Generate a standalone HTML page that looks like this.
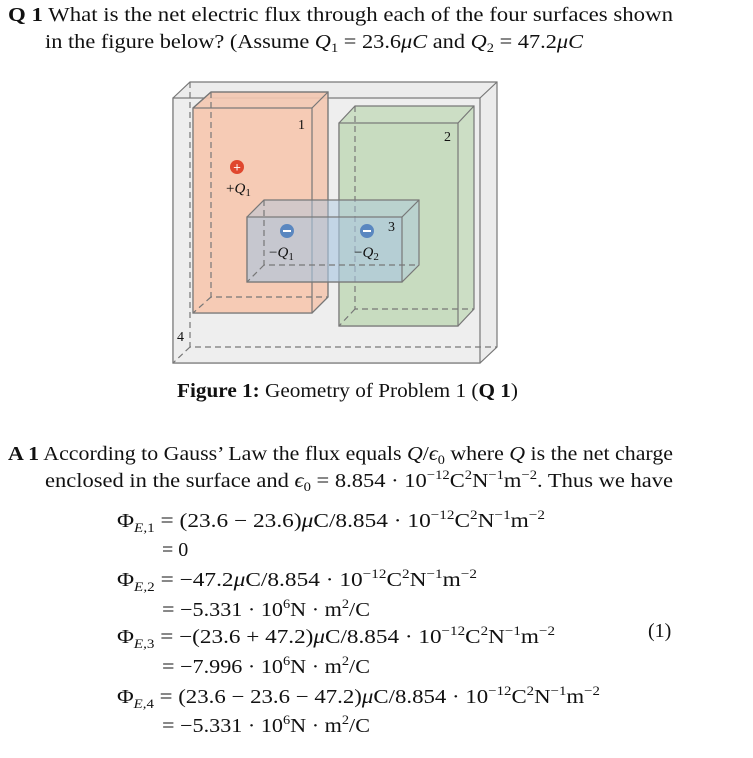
<!DOCTYPE html>
<html><head><meta charset="utf-8"><style>
html,body{margin:0;padding:0;background:#fff;width:753px;height:758px;overflow:hidden}
svg{display:block}
text{font-family:"Liberation Serif",serif;fill:#111}
</style></head><body>
<svg width="753" height="758" viewBox="0 0 753 758" xmlns="http://www.w3.org/2000/svg">
<text x="8" y="21" font-size="20" textLength="665" lengthAdjust="spacingAndGlyphs"><tspan font-weight="bold">Q 1</tspan> What is the net electric flux through each of the four surfaces shown</text>
<text x="45" y="48" font-size="20" textLength="538" lengthAdjust="spacingAndGlyphs">in the figure below? (Assume <tspan font-style="italic">Q</tspan><tspan font-size="13" dy="4">1</tspan><tspan dy="-4"> = 23.6</tspan><tspan font-style="italic">μC</tspan> and <tspan font-style="italic">Q</tspan><tspan font-size="13" dy="4">2</tspan><tspan dy="-4"> = 47.2</tspan><tspan font-style="italic">μC</tspan></text>

<g stroke="#777" stroke-width="1.2">
  <polygon points="173,98 190,82 497,82 497,347 480,363 173,363" fill="#ececec"/>
  <rect x="173" y="98" width="307" height="265" fill="#eeeeee"/>
  <polyline points="480,98 497,82" fill="none"/>
  <g stroke-dasharray="6,4" fill="none">
    <polyline points="190,82 190,347 497,347"/>
    <line x1="190" y1="347" x2="173" y2="363"/>
  </g>
  <polygon points="193,108 211,92 328,92 328,297 312,313 193,313" fill="#f3c7b0" fill-opacity="0.9"/>
  <polyline points="193,108 211,92 328,92 328,297 312,313" fill="none"/>
  <rect x="193" y="108" width="119" height="205" fill="#f7cbb3" fill-opacity="0.7"/>
  <line x1="312" y1="108" x2="328" y2="92"/>
  <g stroke-dasharray="6,4" fill="none"><polyline points="211,92 211,297 328,297"/><line x1="211" y1="297" x2="193" y2="313"/></g>
  <polygon points="339,123 355,106 474,106 474,309 458,326 339,326" fill="#c8dcc0" fill-opacity="0.9"/>
  <rect x="339" y="123" width="119" height="203" fill="#c6dbbd" fill-opacity="0.7"/>
  <line x1="458" y1="123" x2="474" y2="106"/>
  <g stroke-dasharray="6,4" fill="none"><polyline points="355,106 355,309 474,309"/><line x1="355" y1="309" x2="339" y2="326"/></g>
  <polygon points="247,217 264,200 419,200 419,265 402,282 247,282" fill="#a9c6e0" fill-opacity="0.45"/>
  <rect x="247" y="217" width="155" height="65" fill="#a9c6e0" fill-opacity="0.3"/>
  <line x1="402" y1="217" x2="419" y2="200"/>
  <g stroke-dasharray="6,4" fill="none"><polyline points="264,200 264,265 419,265"/><line x1="264" y1="265" x2="247" y2="282"/></g>
</g>
<circle cx="237" cy="167" r="7" fill="#e0472e"/>
<text x="237" y="171.5" font-size="13" text-anchor="middle" style="fill:#fff;font-family:'Liberation Sans'">+</text>
<circle cx="287" cy="231" r="7" fill="#5a87c0"/>
<rect x="283" y="230" width="8" height="2" fill="#fff"/>
<circle cx="367" cy="231" r="7" fill="#5a87c0"/>
<rect x="363" y="230" width="8" height="2" fill="#fff"/>
<g font-size="15">
<text x="226" y="193"><tspan>+</tspan><tspan font-style="italic">Q</tspan><tspan font-size="11" dy="3">1</tspan></text>
<text x="269" y="257"><tspan>−</tspan><tspan font-style="italic">Q</tspan><tspan font-size="11" dy="3">1</tspan></text>
<text x="354" y="257"><tspan>−</tspan><tspan font-style="italic">Q</tspan><tspan font-size="11" dy="3">2</tspan></text>
<text x="298" y="129" font-size="14">1</text>
<text x="444" y="141" font-size="14">2</text>
<text x="388" y="231" font-size="14">3</text>
<text x="177" y="341" font-size="14">4</text>
</g>
<text x="177" y="397" font-size="20" textLength="341" lengthAdjust="spacingAndGlyphs"><tspan font-weight="bold">Figure 1:</tspan> Geometry of Problem 1 (<tspan font-weight="bold">Q 1</tspan>)</text>

<text x="8" y="460" font-size="20" textLength="665" lengthAdjust="spacingAndGlyphs"><tspan font-weight="bold">A 1</tspan> According to Gauss’ Law the flux equals <tspan font-style="italic">Q</tspan>/<tspan font-style="italic">ϵ</tspan><tspan font-size="13" dy="4">0</tspan><tspan dy="-4"> where </tspan><tspan font-style="italic">Q</tspan> is the net charge</text>
<text x="45" y="487" font-size="20" textLength="628" lengthAdjust="spacingAndGlyphs">enclosed in the surface and <tspan font-style="italic">ϵ</tspan><tspan font-size="13" dy="4">0</tspan><tspan dy="-4"> = 8.854 · 10</tspan><tspan font-size="13" dy="-8">−12</tspan><tspan dy="8">C</tspan><tspan font-size="13" dy="-8">2</tspan><tspan dy="8">N</tspan><tspan font-size="13" dy="-8">−1</tspan><tspan dy="8">m</tspan><tspan font-size="13" dy="-8">−2</tspan><tspan dy="8">. Thus we have</tspan></text>

<g font-size="20">
<text x="117" y="527" textLength="428" lengthAdjust="spacingAndGlyphs">Φ<tspan font-size="13" font-style="italic" dy="5">E,</tspan><tspan font-size="13">1</tspan><tspan dy="-5"> = (23.6 − 23.6)</tspan><tspan font-style="italic">μ</tspan>C/8.854 · 10<tspan font-size="13" dy="-8">−12</tspan><tspan dy="8">C</tspan><tspan font-size="13" dy="-8">2</tspan><tspan dy="8">N</tspan><tspan font-size="13" dy="-8">−1</tspan><tspan dy="8">m</tspan><tspan font-size="13" dy="-8">−2</tspan></text>
<text x="162" y="556">= 0</text>
<text x="117" y="586" textLength="360" lengthAdjust="spacingAndGlyphs">Φ<tspan font-size="13" font-style="italic" dy="5">E,</tspan><tspan font-size="13">2</tspan><tspan dy="-5"> = −47.2</tspan><tspan font-style="italic">μ</tspan>C/8.854 · 10<tspan font-size="13" dy="-8">−12</tspan><tspan dy="8">C</tspan><tspan font-size="13" dy="-8">2</tspan><tspan dy="8">N</tspan><tspan font-size="13" dy="-8">−1</tspan><tspan dy="8">m</tspan><tspan font-size="13" dy="-8">−2</tspan></text>
<text x="162" y="616" textLength="208" lengthAdjust="spacingAndGlyphs">= −5.331 · 10<tspan font-size="13" dy="-8">6</tspan><tspan dy="8">N · m</tspan><tspan font-size="13" dy="-8">2</tspan><tspan dy="8">/C</tspan></text>
<text x="117" y="643" textLength="438" lengthAdjust="spacingAndGlyphs">Φ<tspan font-size="13" font-style="italic" dy="5">E,</tspan><tspan font-size="13">3</tspan><tspan dy="-5"> = −(23.6 + 47.2)</tspan><tspan font-style="italic">μ</tspan>C/8.854 · 10<tspan font-size="13" dy="-8">−12</tspan><tspan dy="8">C</tspan><tspan font-size="13" dy="-8">2</tspan><tspan dy="8">N</tspan><tspan font-size="13" dy="-8">−1</tspan><tspan dy="8">m</tspan><tspan font-size="13" dy="-8">−2</tspan></text>
<text x="162" y="673" textLength="208" lengthAdjust="spacingAndGlyphs">= −7.996 · 10<tspan font-size="13" dy="-8">6</tspan><tspan dy="8">N · m</tspan><tspan font-size="13" dy="-8">2</tspan><tspan dy="8">/C</tspan></text>
<text x="117" y="703" textLength="483" lengthAdjust="spacingAndGlyphs">Φ<tspan font-size="13" font-style="italic" dy="5">E,</tspan><tspan font-size="13">4</tspan><tspan dy="-5"> = (23.6 − 23.6 − 47.2)</tspan><tspan font-style="italic">μ</tspan>C/8.854 · 10<tspan font-size="13" dy="-8">−12</tspan><tspan dy="8">C</tspan><tspan font-size="13" dy="-8">2</tspan><tspan dy="8">N</tspan><tspan font-size="13" dy="-8">−1</tspan><tspan dy="8">m</tspan><tspan font-size="13" dy="-8">−2</tspan></text>
<text x="162" y="732" textLength="208" lengthAdjust="spacingAndGlyphs">= −5.331 · 10<tspan font-size="13" dy="-8">6</tspan><tspan dy="8">N · m</tspan><tspan font-size="13" dy="-8">2</tspan><tspan dy="8">/C</tspan></text>
<text x="648" y="637">(1)</text>
</g>
</svg>
</body></html>
